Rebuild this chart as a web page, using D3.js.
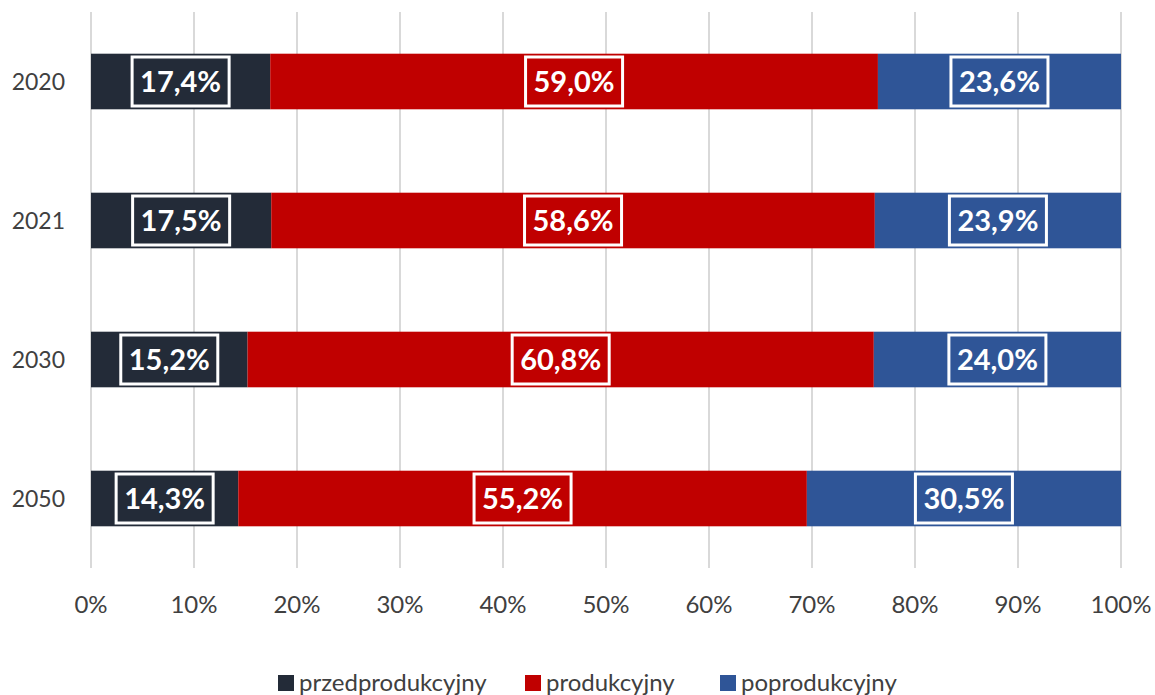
<!DOCTYPE html>
<html>
<head>
<meta charset="utf-8">
<script src="https://cdn.jsdelivr.net/npm/d3@7"></script>
<style>
  body { margin: 0; background: #fff; }
  svg text { font-family: Lato, "Open Sans", sans-serif; }
</style>
</head>
<body>
<div id="chart"></div>
<script>
// data
const years = ["2020", "2021", "2030", "2050"];
const seriesNames = ["przedprodukcyjny", "produkcyjny", "poprodukcyjny"];
const przed = [17.4, 17.5, 15.2, 14.3];
const prod = [59.0, 58.6, 60.8, 55.2];
const poprod = [23.6, 23.9, 24.0, 30.5];
const tickValues = [0, 10, 20, 30, 40, 50, 60, 70, 80, 90, 100];

const colors = ["#232b38", "#c00000", "#2f5597"];

const W = 1155, H = 695;
let margin = { top: 12, right: 34, bottom: 127, left: 91 },
    width = W - margin.left - margin.right,
    height = H - margin.top - margin.bottom;

let svg = d3.select("#chart").append("svg")
    .attr("width", W).attr("height", H);

let g = svg.append("g")
    .attr("transform", "translate(" + margin.left + "," + margin.top + ")");

let x = d3.scaleLinear().domain([0, 100]).range([0, width]);
let y = d3.scaleBand().domain(years).range([0, height]).paddingInner(0.6).paddingOuter(0.3);

// gridlines
g.append("g").selectAll("line")
    .data(tickValues).enter().append("line")
    .attr("x1", d => x(d)).attr("x2", d => x(d))
    .attr("y1", 0).attr("y2", height)
    .attr("stroke", "#d9d9d9").attr("stroke-width", 2);

// x tick labels
g.append("g").selectAll("text")
    .data(tickValues).enter().append("text")
    .attr("x", d => x(d)).attr("y", height + 45)
    .attr("text-anchor", "middle")
    .attr("font-size", 24).attr("fill", "#404040")
    .text(d => d + "%");

// y labels
g.append("g").selectAll("text")
    .data(years).enter().append("text")
    .attr("x", -26).attr("y", d => y(d) + y.bandwidth() / 2)
    .attr("dy", "0.35em")
    .attr("text-anchor", "end")
    .attr("font-size", 23).attr("fill", "#404040")
    .text(d => d);

// stacked rows
let rows = years.map((yr, i) => {
    let vals = [przed[i], prod[i], poprod[i]];
    let acc = 0;
    return vals.map((v, k) => {
        let seg = { year: yr, k: k, v: v, x0: acc, x1: acc + v };
        acc += v;
        return seg;
    });
}).flat();

let segs = g.append("g").selectAll("g")
    .data(rows).enter().append("g");

segs.append("rect")
    .attr("x", d => x(d.x0))
    .attr("y", d => y(d.year))
    .attr("width", d => x(Math.min(d.x1, 100)) - x(d.x0))
    .attr("height", y.bandwidth())
    .attr("fill", d => colors[d.k]);

segs.append("text")
    .attr("class", "lab")
    .attr("x", d => x((d.x0 + Math.min(d.x1, 100)) / 2))
    .attr("y", d => y(d.year) + y.bandwidth() / 2)
    .attr("dy", "0.36em")
    .attr("text-anchor", "middle")
    .attr("font-size", 29).attr("font-weight", "bold")
    .attr("fill", "#fff")
    .text(d => d.v.toFixed(1).replace(".", ",") + "%");

// white boxes around labels
segs.each(function (d) {
    let t = d3.select(this).select("text.lab");
    let bb = t.node().getBBox();
    let cx = x((d.x0 + Math.min(d.x1, 100)) / 2);
    let bw = bb.width + 16, bh = 49;
    d3.select(this).insert("rect", "text.lab")
        .attr("x", cx - bw / 2)
        .attr("y", y(d.year) + y.bandwidth() / 2 - bh / 2)
        .attr("width", bw).attr("height", bh)
        .attr("fill", "none")
        .attr("stroke", "#fff").attr("stroke-width", 3);
});

// legend
let legendX = [278, 525, 720];
let legend = svg.append("g").selectAll("g")
    .data(seriesNames).enter().append("g")
    .attr("transform", (d, i) => "translate(" + legendX[i] + ",675)");
legend.append("rect")
    .attr("width", 16).attr("height", 16)
    .attr("fill", (d, i) => colors[i]);
legend.append("text")
    .attr("x", 21).attr("y", 8).attr("dy", "0.35em")
    .attr("font-size", 24).attr("fill", "#404040")
    .text(d => d);
</script>
</body>
</html>
